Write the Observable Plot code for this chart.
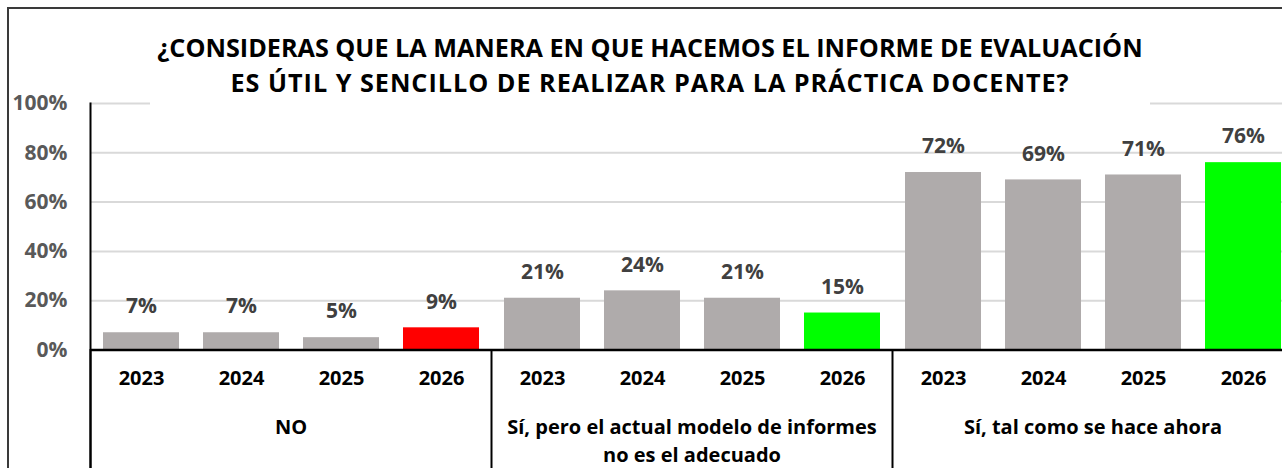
<!DOCTYPE html>
<html>
<head>
<meta charset="utf-8">
<script src="https://cdn.jsdelivr.net/npm/d3@7"></script>
<script src="https://cdn.jsdelivr.net/npm/@observablehq/plot@0.6"></script>
<style>
  html, body { margin: 0; padding: 0; background: #fff; overflow: hidden; }
  #wrap { position: relative; width: 1282px; height: 468px; overflow: hidden; background: #fff; font-family: "Open Sans", Lato, sans-serif; }
  #border { position: absolute; left: 7px; top: 7px; width: 1300px; height: 500px; border: 2px solid #3a3a3a; box-sizing: border-box; }
  #chart { position: absolute; left: 0; top: 0; }
  #title { position: absolute; left: 150px; top: 30px; width: 1000px; height: 75px; background: #fff;
           text-align: center; font-weight: 700; font-size: 25.2px; line-height: 35px; color: #000; white-space: nowrap; }
  #title .l2 { letter-spacing: 1px; }
</style>
</head>
<body>
<div id="wrap">
  <div id="border"></div>
  <div id="chart"></div>
  <div id="title">¿CONSIDERAS QUE LA MANERA EN QUE HACEMOS EL INFORME DE EVALUACIÓN<br><span class="l2">ES ÚTIL Y SENCILLO DE REALIZAR PARA LA PRÁCTICA DOCENTE?</span></div>
</div>
<script>
const groups = ["NO", "Sí, pero el actual modelo de informes\nno es el adecuado", "Sí, tal como se hace ahora"];
const years = ["2023", "2024", "2025", "2026"];
const valuesNo = [7, 7, 5, 9];
const valuesSiPero = [21, 24, 21, 15];
const valuesSiTal = [72, 69, 71, 76];
const yTicks = [0, 20, 40, 60, 80, 100];

const seriesValues = [valuesNo, valuesSiPero, valuesSiTal];
const data = [];
groups.forEach((g, gi) => years.forEach((yr, yi) => data.push({group: g, year: yr, value: seriesValues[gi][yi]})));

const GRAY = "#AFABAB", RED = "#FF0000", GREEN = "#00FF00";
const colorOf = d => d.year === "2026" ? (d.group === "NO" ? RED : GREEN) : GRAY;

const W = 1294, H = 468;
const Y0 = 349.5, Y100 = 103;
const FONT = "'Open Sans', Lato, sans-serif";
const chart = Plot.plot({
  width: W,
  height: H,
  marginLeft: 90,
  marginRight: 1,
  marginTop: Y100,
  marginBottom: 0,
  style: {maxWidth: "none", fontFamily: FONT, background: "transparent"},
  fx: {domain: groups, padding: 0, axis: null},
  x: {domain: years, paddingInner: 0.24, paddingOuter: 0.12, axis: null},
  y: {domain: [0, 100], range: [Y0, Y100], axis: null},
  marks: [
    Plot.gridY({ticks: yTicks.filter(t => t > 0), stroke: "#d9d9d9", strokeOpacity: 1, strokeWidth: 2}),
    Plot.barY(data, {fx: "group", x: "year", y: "value", fill: colorOf}),
    Plot.ruleY([0], {stroke: "#000", strokeWidth: 2.5}),
    Plot.frame({anchor: "left", fx: groups[0], stroke: "#000", strokeWidth: 2}),
    Plot.frame({anchor: "left", insetTop: Y0 - Y100, stroke: "#000", strokeWidth: 2}),
    Plot.text(data, {fx: "group", x: "year", y: "value", text: d => d.value + "%", dy: -26,
      fill: "#404040", fontWeight: 700, fontSize: 21}),
    Plot.axisY({ticks: yTicks, tickFormat: d => d + "%", tickSize: 0, tickPadding: 23, label: null,
      fill: "#595959", fontWeight: 700, fontSize: 21}),
    Plot.axisX({anchor: "bottom", tickSize: 0, tickPadding: 0, dy: -90, lineAnchor: "middle", label: null,
      fill: "#000", fontWeight: 700, fontSize: 20}),
    Plot.axisFx({anchor: "bottom", tickSize: 0, tickPadding: 0, dy: -54, lineAnchor: "top", label: null,
      lineHeight: 1.4, fill: "#000", fontWeight: 700, fontSize: 20})
  ]
});
document.getElementById("chart").appendChild(chart);
</script>
</body>
</html>
